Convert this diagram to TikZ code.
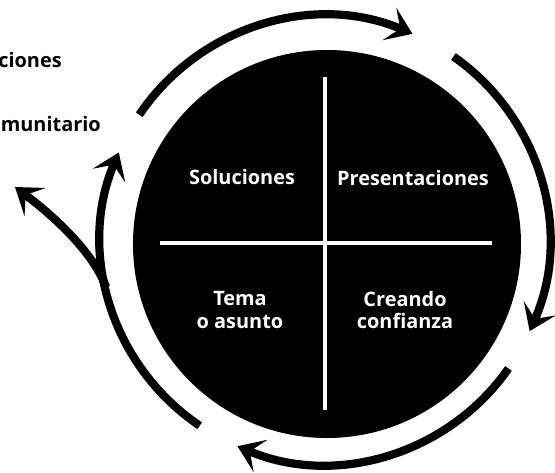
\documentclass[tikz,border=0pt]{standalone}
\usepackage{fontspec}
\setmainfont{Open Sans}
\usetikzlibrary{arrows.meta}

\begin{document}
\begin{tikzpicture}[scale=0.03,
    ring/.style={line width=7pt, -{Stealth[length=7.5mm,width=10.5mm,inset=3.5mm]}},
    quad/.style={text=white, font=\fontsize{17}{19}\selectfont\bfseries, align=center},
    side/.style={font=\fontsize{17}{19}\selectfont\bfseries, anchor=base east, inner sep=0pt}]
    \useasboundingbox (0,0) rectangle (555,473);

    % centres
    \coordinate (C) at (327,229); % disc
    \coordinate (R) at (325,233); % ring of arrows

    \node[circle, fill=black, minimum size=11.64cm, inner sep=0pt] (disc) at (C) {};

    % cross
    \draw[white, line width=3.5pt] (325,396) -- (325,63);
    \draw[white, line width=3.5pt] (160,230) -- (492,230);

    % arrows round the disc (clockwise)
    \draw[ring] ([shift={(146:224)}]R) arc[start angle=146, end angle=67, radius=224];
    \draw[ring] ([shift={(55:224)}]R) arc[start angle=55, end angle=-24, radius=224];
    \draw[ring] ([shift={(-35:224)}]R) arc[start angle=-35, end angle=-113, radius=224];
    \draw[ring] ([shift={(236:224)}]R) arc[start angle=236, end angle=157, radius=224];

    % branch leaving the cycle
    \coordinate (fork) at (106,186);
    \coordinate (away) at (15,286);
    \draw[ring] (fork) .. controls (92,224) and (47,262) .. (away);

    % labels
    \node[quad] (sol) at (242,296) {Soluciones};
    \node[quad] (pre) at (413,295) {Presentaciones};
    \node[quad] (tema) at (240,163) {Tema\\o asunto};
    \node[quad] (conf) at (405,163) {Creando\\confianza};
    \node[side] (cut1) at (62,405) {ciones};
    \node[side] (cut2) at (101,341) {munitario};
\end{tikzpicture}
\end{document}
